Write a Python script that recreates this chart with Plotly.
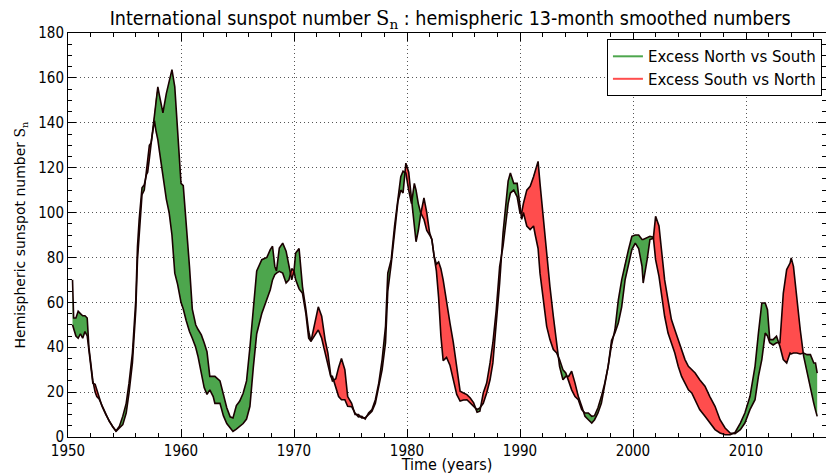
import plotly.graph_objects as go

years = [1950.4, 1950.5, 1950.7, 1950.9, 1951.1, 1951.3, 1951.5, 1951.7, 1951.85, 1952.0,
         1952.2, 1952.4, 1952.55, 1952.75, 1953.0, 1953.35, 1953.65, 1953.95, 1954.25, 1954.55,
         1954.85, 1955.15, 1955.4, 1955.7, 1956.0, 1956.15, 1956.3, 1956.55, 1956.75, 1956.95,
         1957.05, 1957.2, 1957.35, 1957.55, 1957.65, 1957.8, 1957.95, 1958.1, 1958.25, 1958.4,
         1958.7, 1958.95, 1959.2, 1959.45, 1959.7, 1960.0, 1960.2, 1960.45, 1960.75, 1961.0,
         1961.3, 1961.5, 1961.8, 1962.05, 1962.3, 1962.55, 1962.85, 1963.0, 1963.45, 1963.75,
         1964.05, 1964.35, 1964.6, 1964.9, 1965.2, 1965.5, 1965.8, 1966.1, 1966.4, 1966.7,
         1967.15, 1967.6, 1967.9, 1968.1, 1968.3, 1968.45, 1968.7, 1969.0, 1969.3, 1969.55,
         1969.8, 1970.0, 1970.15, 1970.45, 1970.75, 1971.05, 1971.3, 1971.5, 1971.7, 1971.95,
         1972.15, 1972.45, 1972.75, 1973.0, 1973.25, 1973.4, 1973.7, 1973.95, 1974.2, 1974.5,
         1974.75, 1975.1, 1975.4, 1975.7, 1976.0, 1976.3, 1976.6, 1976.9, 1977.2, 1977.5,
         1977.8, 1978.1, 1978.3, 1978.6, 1978.9, 1979.2, 1979.45, 1979.65, 1979.9, 1980.15,
         1980.4, 1980.65, 1980.8, 1981.0, 1981.2, 1981.5, 1981.75, 1982.0, 1982.2, 1982.4,
         1982.6, 1982.8, 1983.0, 1983.2, 1983.5, 1983.8, 1984.1, 1984.4, 1984.7, 1985.0,
         1985.3, 1985.6, 1985.9, 1986.2, 1986.45, 1986.75, 1987.05, 1987.35, 1987.6, 1987.9,
         1988.2, 1988.5, 1988.8, 1988.95, 1989.15, 1989.45, 1989.75, 1990.0, 1990.15, 1990.3,
         1990.6, 1990.9, 1991.2, 1991.35, 1991.6, 1991.77, 1992.06, 1992.36, 1992.65, 1992.95,
         1993.25, 1993.5, 1993.8, 1994.05, 1994.3, 1994.57, 1994.87, 1995.16, 1995.46, 1995.75,
         1996.05, 1996.35, 1996.6, 1996.9, 1997.2, 1997.5, 1997.8, 1998.1, 1998.4, 1998.7,
         1999.0, 1999.3, 1999.6, 1999.9, 2000.2, 2000.5, 2000.8, 2000.9, 2001.25, 2001.5,
         2001.8, 2002.0, 2002.3, 2002.5, 2002.8, 2003.1, 2003.4, 2003.7, 2004.0, 2004.3,
         2004.6, 2004.9, 2005.2, 2005.5, 2005.9, 2006.37, 2006.8, 2007.26, 2007.7, 2008.15,
         2008.6, 2009.03, 2009.5, 2009.9, 2010.35, 2010.8, 2011.1, 2011.4, 2011.7, 2011.9,
         2012.1, 2012.4, 2012.7, 2013.0, 2013.3, 2013.6, 2013.9, 2014.0, 2014.2, 2014.5,
         2014.8, 2015.1, 2015.4, 2015.7, 2016.0, 2016.15, 2016.3]

north = [70, 53, 53, 56, 55, 54, 54, 53, 40, 33,
         25, 20, 18, 17, 14, 10, 7, 4.8, 2.7, 4.8,
         9.3, 15, 24, 37.4, 61, 85, 97, 111, 112.4, 117,
         118, 124, 131, 139, 144.4, 152, 156, 152, 148, 144.4,
         153, 157.7, 163.7, 156, 135.5, 113, 112, 97, 76, 57,
         50, 48, 45.5, 42, 38, 27, 27, 27, 25, 19,
         13, 9, 8.5, 14, 16, 19.5, 25, 40, 57, 74,
         79, 80, 83.5, 85, 76, 74, 84.2, 86.4, 82.8, 76,
         70, 74, 82, 84, 67, 57, 47, 42.6, 44, 46,
         47.7, 44, 38, 32, 27, 27, 22, 18, 16.6, 16.6,
         13.7, 13.5, 10.7, 9, 9.2, 8, 10.7, 12.2, 16.6, 24,
         34.5, 49.3, 73, 79, 94, 107, 116, 118.4, 117.6, 110,
         104, 113, 110, 104, 100, 97, 92, 90, 88, 80.5,
         74, 62, 45, 34, 35.5, 32, 26, 19, 16, 16.5,
         16.6, 15, 13.7, 12.2, 13, 15, 19.6, 25.5, 33, 49.3,
         68.6, 91, 105.8, 114, 117.6, 113, 113, 101.3, 97, 100,
         94, 92.4, 94, 90, 84, 73, 61, 49.3, 43.4, 39,
         37.4, 34.5, 30, 28.5, 25, 21, 18, 16.6, 12.2, 10.7,
         10.7, 9.2, 9.5, 13, 18, 24, 31.5, 41, 47.8, 61,
         70, 77.5, 83.5, 89.4, 90, 90, 88, 88, 89, 89.4,
         89, 79, 71.6, 64, 53.8, 46.3, 42, 37.4, 31.5, 27,
         24, 21, 19.6, 16.6, 12.2, 9.2, 6.2, 3.3, 1.8, 1,
         1, 2, 6.2, 10.7, 18, 31.5, 46.3, 59.7, 59.7, 56.7,
         43.4, 43.4, 44.9, 40.4, 34.5, 33, 37.4, 37, 37.4, 37.4,
         37, 37.4, 36.7, 36.7, 33, 33, 28.5]

south = [50, 48, 45, 44, 46, 44, 47, 45, 38, 31,
         24, 23.5, 21, 17.5, 13.8, 10, 7, 4.5, 2.5, 4.2,
         5.5, 10.7, 19.6, 33, 56.7, 79, 92, 108, 110, 118,
         124, 130, 131, 138, 141, 136, 132.5, 127, 122, 117,
         106, 100, 90, 73, 68, 60, 57, 52, 47, 44,
         40, 36, 28, 22, 19, 21, 18, 15, 15, 9.5,
         6, 4, 2.5, 3.5, 4.8, 6, 8, 13.7, 31, 46,
         55, 61, 65.6, 70, 72.3, 73, 73.8, 73, 68.6, 70,
         75, 74, 70, 66, 64, 55, 44, 42.6, 47.8, 54,
         58, 53.8, 43.4, 37.4, 27.5, 25, 26, 31, 35, 30,
         18, 15, 10, 10, 8.5, 8.5, 10, 11.5, 15, 22,
         30, 42, 65, 77, 92, 105, 110, 108.7, 122, 118,
         106, 95, 87, 92, 99, 106.5, 100, 91, 88, 80.5,
         77, 78, 75, 70, 59.7, 50.8, 42, 31.5, 20.4, 19.6,
         18.9, 17.4, 15.2, 11, 11.5, 19.6, 24, 33, 42, 56.7,
         76, 85, 99.8, 104, 108.7, 110, 107, 99.8, 100, 104,
         110, 111.7, 116, 119, 122.8, 113, 96.8, 80.5, 67, 53.8,
         40.4, 31.5, 25.5, 27, 27, 29.3, 24, 18, 13.7, 9.2,
         7.7, 6.2, 7.7, 10.7, 15, 22.6, 31.5, 43, 46.3, 50.8,
         58, 70, 77.5, 83.5, 86.4, 84, 76, 68.6, 79, 88,
         88.5, 98.3, 94, 83.5, 70, 61, 52.3, 47.8, 43.4, 39,
         34.5, 31.5, 30, 28.5, 25.5, 22.6, 18, 13.7, 7.7, 4,
         1.8, 1.5, 3.3, 6.2, 12.2, 16.6, 27, 34.5, 46.3, 45,
         42, 41, 42, 42, 64, 74.6, 77.5, 79.8, 76, 61,
         47.8, 36, 28.5, 21, 15, 12, 9.2]

legend_labels = ["Excess North vs South", "Excess South vs North"]
GREEN = "#4da64d"
RED = "#ff4d4d"

# insert crossing points so that the coloured regions switch exactly where N = S
xs, ns, ss = [], [], []
for i in range(len(years)):
    if i > 0:
        d0 = north[i - 1] - south[i - 1]
        d1 = north[i] - south[i]
        if d0 * d1 < 0:
            t = d0 / (d0 - d1)
            xc = years[i - 1] + t * (years[i] - years[i - 1])
            vc = north[i - 1] + t * (north[i] - north[i - 1])
            xs.append(xc); ns.append(vc); ss.append(vc)
    xs.append(years[i]); ns.append(north[i]); ss.append(south[i])
upper = [max(a, b) for a, b in zip(ns, ss)]

fig = go.Figure()
fig.add_trace(go.Scatter(x=xs, y=ss, mode="lines", line=dict(width=0, color=GREEN),
                         showlegend=False, hoverinfo="skip"))
fig.add_trace(go.Scatter(x=xs, y=upper, mode="lines", line=dict(width=0, color=GREEN),
                         fill="tonexty", fillcolor=GREEN, showlegend=False, hoverinfo="skip"))
fig.add_trace(go.Scatter(x=xs, y=ns, mode="lines", line=dict(width=0, color=RED),
                         showlegend=False, hoverinfo="skip"))
fig.add_trace(go.Scatter(x=xs, y=upper, mode="lines", line=dict(width=0, color=RED),
                         fill="tonexty", fillcolor=RED, showlegend=False, hoverinfo="skip"))
fig.add_trace(go.Scatter(x=years, y=north, mode="lines", line=dict(width=1.6, color="#1a0000"),
                         showlegend=False, name="North"))
fig.add_trace(go.Scatter(x=years, y=south, mode="lines", line=dict(width=1.6, color="#1a0000"),
                         showlegend=False, name="South"))
fig.add_trace(go.Scatter(x=[None], y=[None], mode="lines", line=dict(width=2, color=GREEN),
                         name=legend_labels[0]))
fig.add_trace(go.Scatter(x=[None], y=[None], mode="lines", line=dict(width=2, color=RED),
                         name=legend_labels[1]))

COND = "DejaVu Sans Condensed, Liberation Sans Narrow, DejaVu Sans, sans-serif"
axis_common = dict(
    showline=True, linecolor="black", linewidth=1, mirror="allticks",
    ticks="inside", ticklen=8, tickcolor="black", tickwidth=1,
    showgrid=True, gridcolor="#555", griddash="1px,3px", gridwidth=1,
    zeroline=False, tickfont=dict(family=COND, size=15, color="black"),
)

fig.update_layout(
    width=826, height=474,
    margin=dict(l=68, r=0, t=33, b=37),
    paper_bgcolor="white", plot_bgcolor="white",
    title=dict(
        text='International sunspot number <span style="font-family:DejaVu Serif">S<sub>n</sub></span> : hemispheric 13-month smoothed numbers',
        font=dict(family=COND, size=19.5, color="black"),
        x=0.545, xanchor="center", xref="container",
        y=0.962, yanchor="middle", yref="container",
    ),
    xaxis=dict(
        range=[1950, 2017.08], tick0=1950, dtick=10,
        minor=dict(dtick=2, ticklen=4, ticks="inside", tickcolor="black", showgrid=False),
        title=dict(text="Time (years)", font=dict(family=COND, size=16, color="black"), standoff=1),
        **axis_common,
    ),
    yaxis=dict(
        range=[0, 180], tick0=0, dtick=20,
        minor=dict(dtick=5, ticklen=4, ticks="inside", tickcolor="black", showgrid=False),
        title=dict(text='Hemispheric sunspot number <span style="font-family:DejaVu Serif">S<sub>n</sub></span>',
                   font=dict(family="DejaVu Sans, sans-serif", size=14, color="black"), standoff=9),
        **axis_common,
    ),
    legend=dict(
        x=0.711, xanchor="left", y=0.985, yanchor="top",
        bgcolor="white", bordercolor="black", borderwidth=1,
        font=dict(family="DejaVu Sans, sans-serif", size=15, color="black"),
        tracegroupgap=0, itemwidth=30, traceorder="normal",
    ),
    showlegend=True,
)

fig.write_html("out.html", config={"displayModeBar": False},
               post_script="document.body.style.margin='0';document.body.style.overflow='hidden';")
